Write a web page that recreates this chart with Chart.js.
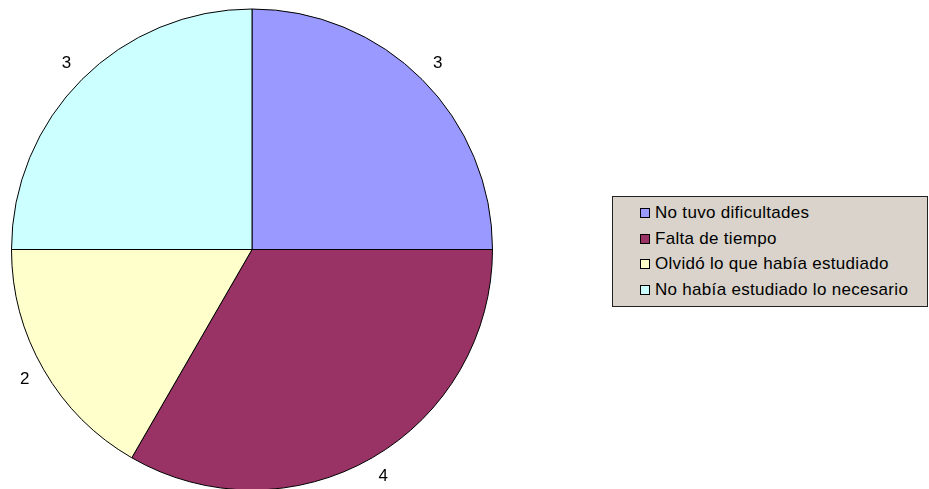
<!DOCTYPE html>
<html>
<head>
<meta charset="utf-8">
<script src="https://cdn.jsdelivr.net/npm/chart.js@4/dist/chart.umd.min.js"></script>
<style>
  html, body { margin: 0; padding: 0; background: #fff; overflow: hidden; }
  #wrap { position: relative; width: 929px; height: 500px; }
  #c { position: absolute; left: 0; top: 0; }
  #legend {
    position: absolute; left: 612px; top: 196px; width: 314px; height: 109px;
    background: #d9d3cb; border: 1px solid #222; box-sizing: content-box;
    font-family: "Liberation Sans", Arial, sans-serif; font-size: 17px; letter-spacing: 0.3px; color: #000;
  }
  .item { position: absolute; left: 27px; height: 20px; display: flex; align-items: center; white-space: nowrap; }
  .sw { display: inline-block; width: 8px; height: 8px; border: 1px solid #000; margin-right: 5px; flex: none; }
</style>
</head>
<body>
<div id="wrap">
  <canvas id="c" width="929" height="500" style="width:929px;height:500px"></canvas>
  <div id="legend"></div>
</div>
<script>
const categories = ["No tuvo dificultades", "Falta de tiempo", "Olvidó lo que había estudiado", "No había estudiado lo necesario"];
const values = [3, 4, 2, 3];
const colors = ["#9999ff", "#993366", "#ffffcc", "#ccffff"];

const outsideLabels = {
  id: 'outsideLabels',
  afterDatasetsDraw(chart) {
    const ctx = chart.ctx;
    const meta = chart.getDatasetMeta(0);
    ctx.save();
    ctx.font = '17px "Liberation Sans", Arial, sans-serif';
    ctx.fillStyle = '#000';
    ctx.textAlign = 'center';
    ctx.textBaseline = 'middle';
    meta.data.forEach((arc, i) => {
      const p = arc.getProps(['x', 'y', 'startAngle', 'endAngle', 'outerRadius'], true);
      const mid = (p.startAngle + p.endAngle) / 2;
      const r = p.outerRadius + 22;
      ctx.fillText(String(chart.data.datasets[0].data[i]), p.x + Math.cos(mid) * r, p.y + Math.sin(mid) * r - 1);
    });
    ctx.restore();
  }
};

const chart = new Chart(document.getElementById('c'), {
  type: 'pie',
  data: {
    labels: categories,
    datasets: [{ data: values, backgroundColor: colors, borderColor: '#000', borderWidth: 1 }]
  },
  options: {
    responsive: false,
    animation: false,
    layout: { padding: { left: 11, top: 8, right: 436, bottom: 9 } },
    plugins: { legend: { display: false }, tooltip: { enabled: false } }
  },
  plugins: [outsideLabels]
});

const legend = document.getElementById('legend');
categories.forEach((name, i) => {
  const d = document.createElement('div');
  d.className = 'item';
  d.style.top = Math.round(6 + i * 25.7) + 'px';
  const sw = document.createElement('span');
  sw.className = 'sw';
  sw.style.background = colors[i];
  d.appendChild(sw);
  d.appendChild(document.createTextNode(name));
  legend.appendChild(d);
});
</script>
</body>
</html>
